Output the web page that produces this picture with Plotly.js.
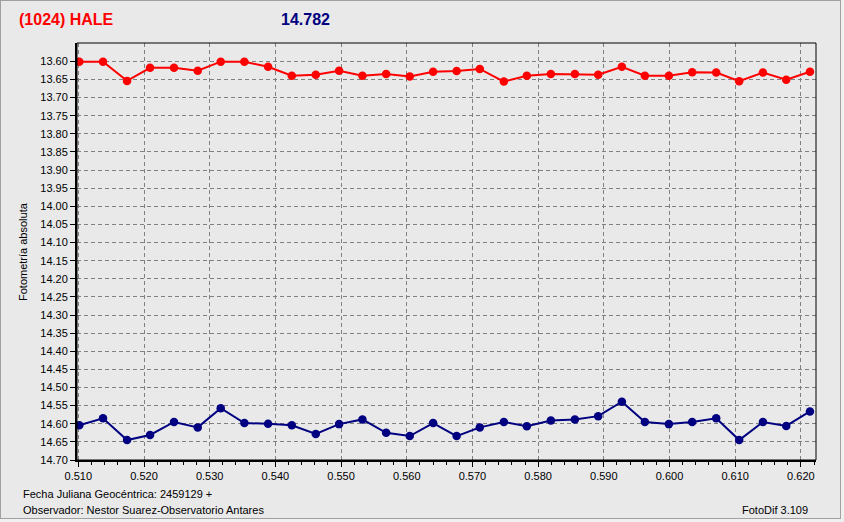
<!DOCTYPE html>
<html>
<head>
<meta charset="utf-8">
<script src="https://cdn.plot.ly/plotly-3.0.1.min.js"></script>
<style>
  html, body { margin: 0; padding: 0; background: #f0f0f0; }
  #frame { position: absolute; left: 0; top: 0; width: 839px; height: 517px;
           border: 1px solid #a0a0a0; background: #e9e9ea; }
  #chart { position: absolute; left: 0; top: 0; width: 844px; height: 522px; }
</style>
</head>
<body>
<div id="frame"></div>
<div id="chart"></div>
<script>
// Julian date fraction (JD - 2459129)
const jdFrac = [0.51015, 0.51376, 0.51742, 0.52092, 0.52457, 0.52818, 0.53168, 0.53528,
                0.53889, 0.54250, 0.54615, 0.54970, 0.55325, 0.55686, 0.56046, 0.56401,
                0.56759, 0.57112, 0.57478, 0.57828, 0.58194, 0.58559, 0.58914, 0.59275,
                0.59625, 0.59990, 0.60345, 0.60711, 0.61061, 0.61422, 0.61777, 0.62138];
// Upper (red) series
const redMag = [13.601, 13.601, 13.654, 13.618, 13.618, 13.626, 13.601, 13.601,
                13.615, 13.640, 13.637, 13.626, 13.640, 13.635, 13.642, 13.629,
                13.627, 13.621, 13.656, 13.640, 13.635, 13.635, 13.637, 13.615,
                13.640, 13.640, 13.630, 13.631, 13.655, 13.631, 13.651, 13.629];
// Lower (navy) series
const blueMag = [14.604, 14.585, 14.645, 14.631, 14.595, 14.610, 14.557, 14.598,
                 14.600, 14.604, 14.628, 14.601, 14.588, 14.625, 14.634, 14.598,
                 14.634, 14.610, 14.595, 14.607, 14.591, 14.588, 14.579, 14.539,
                 14.595, 14.601, 14.595, 14.585, 14.645, 14.595, 14.606, 14.566];
const xTickVals = [0.510, 0.520, 0.530, 0.540, 0.550, 0.560, 0.570, 0.580, 0.590, 0.600, 0.610, 0.620];
const xTickText = ["0.510", "0.520", "0.530", "0.540", "0.550", "0.560", "0.570", "0.580", "0.590", "0.600", "0.610", "0.620"];
const yTickVals = [13.60, 13.65, 13.70, 13.75, 13.80, 13.85, 13.90, 13.95, 14.00, 14.05, 14.10, 14.15,
                   14.20, 14.25, 14.30, 14.35, 14.40, 14.45, 14.50, 14.55, 14.60, 14.65, 14.70];
const yTickText = yTickVals.map(v => v.toFixed(2));

const titleLeft = "(1024) HALE";
const titleRight = "14.782";
const yTitle = "Fotometría absoluta";
const footer1 = "Fecha Juliana Geocéntrica: 2459129 +";
const footer2 = "Observador: Nestor Suarez-Observatorio Antares";
const footer3 = "FotoDif 3.109";

const FONT = "Liberation Sans, Arial, sans-serif";
const W = 844, H = 522;
const M = {l: 77, r: 28, t: 43, b: 62};
const pw = W - M.l - M.r, ph = H - M.t - M.b;
const px = x => (x - M.l) / pw;
const py = y => 1 - (y - M.t) / ph;

const traces = [
  {x: jdFrac, y: redMag, type: 'scatter', mode: 'lines+markers',
   line: {color: '#ff0000', width: 2}, marker: {color: '#ff0000', size: 8.5}, hoverinfo: 'skip'},
  {x: jdFrac, y: blueMag, type: 'scatter', mode: 'lines+markers',
   line: {color: '#000080', width: 2}, marker: {color: '#000080', size: 8.5}, hoverinfo: 'skip'}
];

const layout = {
  width: W, height: H,
  margin: M,
  paper_bgcolor: 'rgba(0,0,0,0)',
  plot_bgcolor: '#e9e9ea',
  showlegend: false,
  font: {family: FONT, size: 11, color: '#000'},
  xaxis: {
    range: [0.5098, 0.6223],
    tickmode: 'array', tickvals: xTickVals, ticktext: xTickText,
    ticks: 'outside', ticklen: 5, tickwidth: 1, tickcolor: '#000',
    minor: {tickmode: 'linear', tick0: 0.510, dtick: 0.002, ticks: 'outside', ticklen: 3, tickcolor: '#000', showgrid: false},
    showline: true, linewidth: 2, linecolor: '#000',
    showgrid: true, gridcolor: '#808080', griddash: '4px,3px', gridwidth: 1,
    zeroline: false,
    tickfont: {family: FONT, size: 11, color: '#000'}
  },
  yaxis: {
    range: [14.70, 13.5495],
    tickmode: 'array', tickvals: yTickVals, ticktext: yTickText,
    ticks: 'outside', ticklen: 5, tickwidth: 1, tickcolor: '#000',
    showline: true, linewidth: 2, linecolor: '#000',
    showgrid: true, gridcolor: '#808080', griddash: '4px,3px', gridwidth: 1,
    zeroline: false,
    tickfont: {family: FONT, size: 11, color: '#000'}
  },
  shapes: [
    {type: 'rect', xref: 'paper', yref: 'paper', x0: 0, x1: 1, y0: 0, y1: 1,
     line: {color: '#000', width: 1}, fillcolor: 'rgba(0,0,0,0)'}
  ],
  annotations: [
    {text: '<b>' + titleLeft + '</b>', xref: 'paper', yref: 'paper', x: px(17), y: py(19.5),
     xanchor: 'left', yanchor: 'middle', showarrow: false, font: {family: FONT, size: 16, color: '#ff0000'}},
    {text: '<b>' + titleRight + '</b>', xref: 'paper', yref: 'paper', x: px(279), y: py(19.5),
     xanchor: 'left', yanchor: 'middle', showarrow: false, font: {family: FONT, size: 16, color: '#000080'}},
    {text: yTitle, xref: 'paper', yref: 'paper', x: px(23), y: py(252), textangle: -90,
     xanchor: 'center', yanchor: 'middle', showarrow: false, font: {family: FONT, size: 11, color: '#000'}},
    {text: footer1, xref: 'paper', yref: 'paper', x: px(21), y: py(494),
     xanchor: 'left', yanchor: 'middle', showarrow: false, font: {family: FONT, size: 11, color: '#000'}},
    {text: footer2, xref: 'paper', yref: 'paper', x: px(21), y: py(510),
     xanchor: 'left', yanchor: 'middle', showarrow: false, font: {family: FONT, size: 11, color: '#000'}},
    {text: footer3, xref: 'paper', yref: 'paper', x: px(810), y: py(510),
     xanchor: 'right', yanchor: 'middle', showarrow: false, font: {family: FONT, size: 11, color: '#000'}}
  ]
};

Plotly.newPlot('chart', traces, layout, {staticPlot: true, displayModeBar: false});
</script>
</body>
</html>
